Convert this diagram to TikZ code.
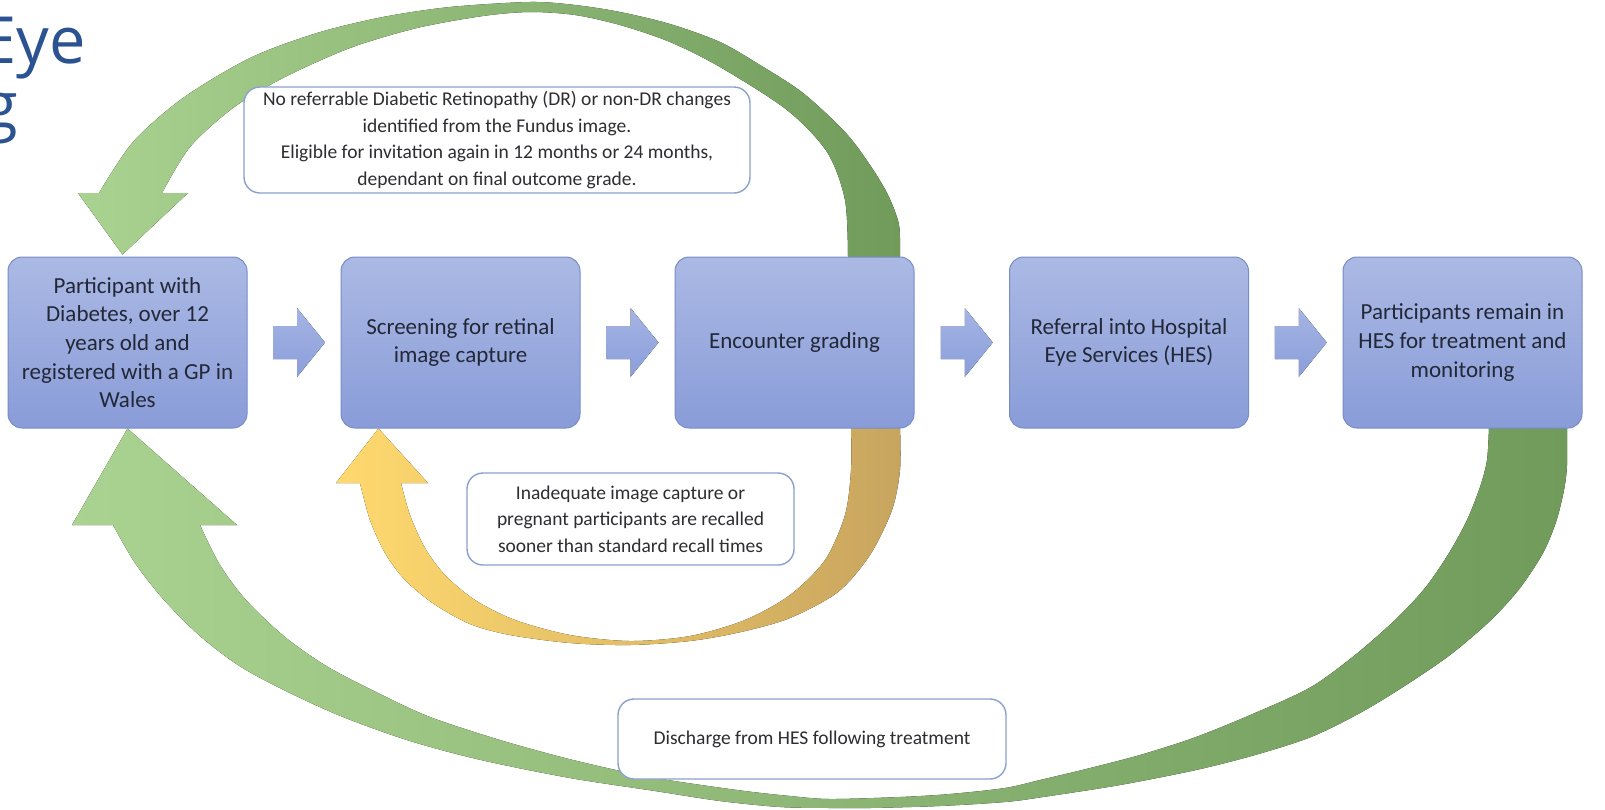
\documentclass[tikz,border=0pt]{standalone}
\usepackage{fontspec}
\setmainfont{Carlito}
\newfontfamily\titlefont{Open Sans}
\usetikzlibrary{calc}
\pgfdeclarelayer{loops}
\pgfsetlayers{loops,main}

\definecolor{titleblue}{RGB}{43,82,145}
\definecolor{boxtop}{RGB}{171,185,228}
\definecolor{boxbot}{RGB}{137,156,216}
\definecolor{boxline}{RGB}{120,140,200}
\definecolor{boxtext}{RGB}{35,40,55}
\definecolor{chevtop}{RGB}{165,180,228}
\definecolor{chevbot}{RGB}{138,158,218}
\definecolor{noteline}{RGB}{140,160,205}
\definecolor{notetext}{RGB}{45,45,50}
\definecolor{greenlight}{RGB}{170,210,145}
\definecolor{greendark}{RGB}{112,155,90}
\definecolor{yellowlight}{RGB}{255,217,110}
\definecolor{yellowdark}{RGB}{200,165,95}

\tikzset{
  stage/.style={rounded corners=14pt, minimum width=239pt, minimum height=171pt,
    top color=boxtop, bottom color=boxbot, draw=boxline, line width=1pt,
    align=center, text=boxtext, font=\fontsize{23}{28.7}\selectfont, inner sep=0pt},
  note/.style={rounded corners=16pt, fill=white, draw=noteline, line width=1.4pt,
    align=center, text=notetext, font=\fontsize{19.5}{26.6}\selectfont, inner sep=0pt},
  heading/.style={text=titleblue, font=\titlefont\fontsize{65}{65}\selectfont, inner sep=0pt},
  chev/.style={top color=chevtop, bottom color=chevbot, draw=none},
  greenband/.style={left color=greenlight, right color=greendark, draw=none},
  yellowband/.style={left color=yellowlight, right color=yellowdark, draw=none},
}

\begin{document}
\begin{tikzpicture}[x=1pt,y=-1pt]
\useasboundingbox (0,0) rectangle (1605,809);

% heading fragments
\node[heading, anchor=base east] (h1) at (86,63) {Eye};
\node[heading, anchor=base east] (h2) at (18,128) {g};

% process stages
\node[stage] (b1) at (127.5,342.5) {Participant with\\Diabetes, over 12\\years old and\\registered with a GP in\\Wales};
\node[stage] (b2) at (460.5,342.5) {Screening for retinal\\image capture};
\node[stage] (b3) at (794.5,342.5) {Encounter grading};
\node[stage] (b4) at (1129,342.5) {Referral into Hospital\\Eye Services (HES)};
\node[stage] (b5) at (1462.5,342.5) {Participants remain in\\HES for treatment and\\monitoring};

% arrow tips on the target stages
\coordinate (tipTop) at ($(b1.north)+(-5,-2)$);
\coordinate (tipYellow) at ($(b2.south west)+(38,0)$);
\coordinate (tipBottom) at (b1.south);

\begin{pgfonlayer}{loops}
% recall loop: Encounter grading back to Participant (top)
\fill[greenband]
  plot[smooth] coordinates {(900,258) (899,225) (888,195) (870,165) (845,132) (803,93) (760,65) (720,42) (670,24) (620,12) (575,5) (530,2) (450,7) (383,17) (317,33) (250,58) (183,98) (133,142) (99,193)}
  -- (78,193) -- (tipTop) -- (188,193) -- (162,193)
  -- plot[smooth] coordinates {(162,193) (190,147) (233,108) (283,78) (350,48) (417,28) (483,16) (530,12) (575,15) (620,25) (670,42) (720,67) (787,110) (827,152) (845,200) (848,258)}
  -- cycle;

% early recall loop: Encounter grading back to Screening
\fill[yellowband]
  plot[smooth] coordinates {(900,427) (900,470) (892,510) (870,555) (838,592) (790,618) (741,632) (690,641) (630,645) (570,643) (510,635) (470,624) (434,604) (405,580) (385,553) (370,520) (360,483)}
  -- (336,483) -- (tipYellow) -- (428,483) -- (401,483)
  -- plot[smooth] coordinates {(401,483) (410,515) (425,548) (445,575) (475,600) (515,620) (570,635) (630,641) (690,636) (745,620) (790,595) (825,560) (845,515) (851,470) (851,427)}
  -- cycle;

% discharge loop: HES back to Participant
\fill[greenband]
  plot[smooth] coordinates {(1567,427) (1567,465) (1564,490) (1556,522) (1543,553) (1520,588) (1491,620) (1450,655) (1403,687) (1360,713) (1311,737) (1255,755) (1196,770) (1120,785) (1043,797) (1005,802) (940,806) (870,808) (830,808) (780,807) (720,801) (655,791) (570,778) (481,760) (410,741) (343,717) (290,693) (241,667) (200,636) (164,600) (135,563) (113,525)}
  -- (72,525) -- (tipBottom) -- (237,525) -- (200,525)
  -- plot[smooth] coordinates {(200,525) (220,565) (246,600) (285,637) (328,667) (380,694) (430,717) (500,740) (573,760) (650,777) (737,790) (790,796) (830,799) (900,797) (950,794) (1005,788) (1040,780) (1082,770) (1140,755) (1196,737) (1255,713) (1311,687) (1355,655) (1395,620) (1425,588) (1449,553) (1467,520) (1480,487) (1487,460) (1489,427)}
  -- cycle;
\end{pgfonlayer}

% block arrows between stages
\foreach \a/\b in {b1/b2,b2/b3,b3/b4,b4/b5}{
  \coordinate (c) at ($(\a.east)!0.5!(\b.west)+(5,0)$);
  \fill[chev] ([shift={(-26,-16.5)}]c) -- ([shift={(-2,-16.5)}]c) -- ([shift={(-2,-34.5)}]c)
    -- ([shift={(26,0)}]c) -- ([shift={(-2,34.5)}]c) -- ([shift={(-2,16.5)}]c)
    -- ([shift={(-26,16.5)}]c) -- cycle;
}

% outcome notes
\node[note, minimum width=506pt, minimum height=106pt] (n1) at (497,140)
  {No referrable Diabetic Retinopathy (DR) or non-DR changes\\identified from the Fundus image.\\Eligible for invitation again in 12 months or 24 months,\\dependant on final outcome grade.};
\node[note, minimum width=327pt, minimum height=92pt] (n2) at (630.5,519)
  {Inadequate image capture or\\pregnant participants are recalled\\sooner than standard recall times};
\node[note, minimum width=388pt, minimum height=80pt] (n3) at (812,739)
  {Discharge from HES following treatment};
\end{tikzpicture}
\end{document}
